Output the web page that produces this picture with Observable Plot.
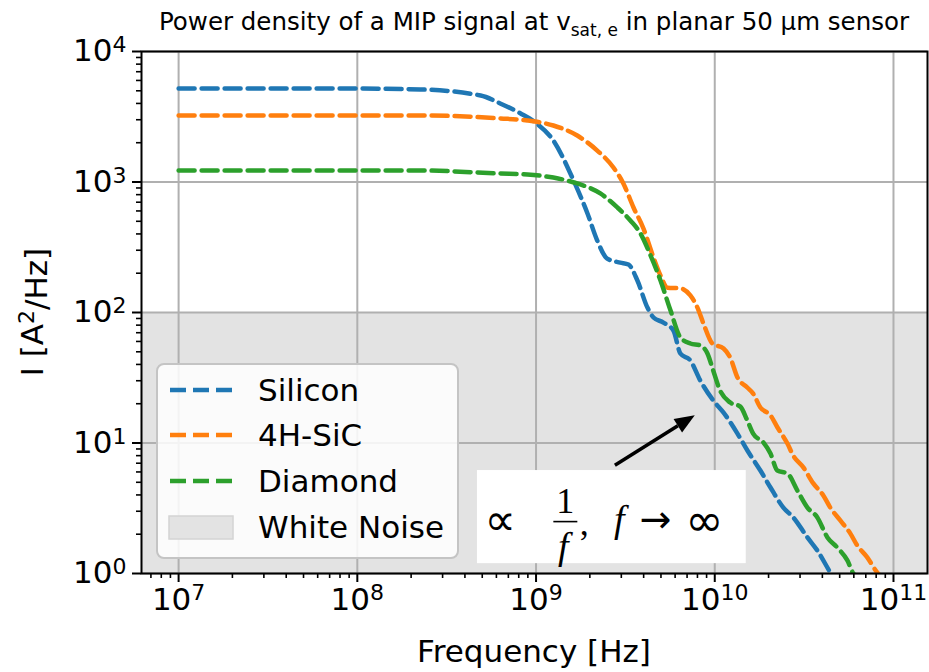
<!DOCTYPE html>
<html><head><meta charset="utf-8">
<script src="https://cdn.jsdelivr.net/npm/d3@7"></script>
<script src="https://cdn.jsdelivr.net/npm/@observablehq/plot@0.6"></script>
<style>
body{margin:0;background:#fff;}
#chart{width:929px;height:672px;}
</style>
</head><body><div id="chart"></div>
<script>
// ---------- data ----------
const series = ["Silicon", "4H-SiC", "Diamond"];
const colors = ["#1f77b4", "#ff7f0e", "#2ca02c"];

const siliconF = [1e7, 1e8, 2.25e8, 4.9e8, 6.3e8, 8.2e8, 9.9e8, 1.25e9, 1.62e9, 1.94e9, 2.2e9, 2.5e9, 2.96e9, 3.29e9, 3.69e9, 4.2e9, 4.54e9, 5.16e9, 5.87e9, 6.42e9, 7.3e9, 8.3e9, 9.8e9, 1.12e10, 1.34e10, 1.52e10, 1.8e10, 2.05e10, 2.42e10, 2.75e10, 3.3e10, 3.75e10, 4.43e10, 4.7e10];
const siliconI = [5200, 5200, 5120, 4600, 4000, 3350, 2860, 2080, 1030, 574, 356, 259, 241, 233, 176, 109, 91.6, 83.8, 72.8, 48.5, 42.9, 30.1, 21.2, 17.1, 11.8, 8.8, 6.15, 4.56, 3.2, 2.69, 1.89, 1.5, 1.02, 0.9];

const sicF = [1e7, 1e8, 2.25e8, 6.3e8, 8.95e8, 1.25e9, 1.70e9, 2.2e9, 2.71e9, 3.08e9, 3.51e9, 3.99e9, 4.54e9, 4.97e9, 5.44e9, 6.43e9, 7.3e9, 8.0e9, 8.64e9, 9.7e9, 1.12e10, 1.22e10, 1.34e10, 1.52e10, 1.64e10, 1.8e10, 2.05e10, 2.24e10, 2.55e10, 2.75e10, 3.13e10, 3.56e10, 4.05e10, 4.43e10, 5.04e10, 5.73e10, 6.27e10, 7.13e10, 8.1e10, 8.5e10];
const sicI = [3235, 3235, 3235, 3070, 2960, 2710, 2270, 1742, 1291, 975, 638, 440, 264, 192, 155, 153, 135, 109, 82.4, 57.8, 53, 45.2, 31.8, 26.6, 23.9, 18.7, 16.3, 13.2, 9.9, 8.0, 6.5, 4.9, 3.96, 3.2, 2.55, 2.03, 1.64, 1.33, 1.02, 0.95];

const diamondF = [1e7, 1e8, 2.25e8, 6.3e8, 8.95e8, 1.25e9, 1.70e9, 2.29e9, 2.85e9, 3.37e9, 3.84e9, 4.37e9, 4.97e9, 5.65e9, 6.43e9, 7.3e9, 8.3e9, 9.1e9, 9.8e9, 1.07e10, 1.22e10, 1.39e10, 1.52e10, 1.64e10, 1.87e10, 2.05e10, 2.24e10, 2.55e10, 2.9e10, 3.3e10, 3.75e10, 4.27e10, 4.85e10, 5.52e10, 5.96e10, 6.3e10];
const diamondI = [1225, 1225, 1225, 1161, 1141, 1081, 975, 817, 638, 507, 403, 274, 176, 104, 64.3, 57.9, 55.9, 48.5, 36, 25.3, 20.4, 19, 14.9, 11.8, 10.1, 8.3, 6.15, 5.84, 4.32, 3.2, 2.69, 1.89, 1.58, 1.26, 1.0, 0.92];

const xDomain = [6.2e6, 1.55e11];
const yDomain = [1, 1e4];
const whiteNoise = [1, 100];   // band, I range
const xMajor = [1e7, 1e8, 1e9, 1e10, 1e11];
const yMajor = [1, 10, 100, 1000, 10000];

const title = ["Power density of a MIP signal at v", "sat, e", " in planar 50 µm sensor"];
const xLabel = "Frequency [Hz]";
const yLabel = ["I [A", "2", "/Hz]"];
const legendLabels = ["Silicon", "4H-SiC", "Diamond", "White Noise"];

// annotation (data coordinates)
const annoBox = {x1: 4.7e8, x2: 1.5e10, y1: 1.19, y2: 6.15};
const annoArrow = {x1: 2.78e9, y1: 6.7, x2: 7.78e9, y2: 16.2};

// ---------- build ----------
function minors(lo, hi) {
  const out = [];
  for (let e = Math.floor(Math.log10(lo)); e <= Math.ceil(Math.log10(hi)); e++)
    for (let k = 2; k <= 9; k++) { const v = k * 10 ** e; if (v >= lo && v <= hi) out.push(v); }
  return out;
}
const xMinor = minors(xDomain[0], xDomain[1]);
const yMinor = minors(yDomain[0], yDomain[1]);

const lines = [];
[[siliconF, siliconI], [sicF, sicI], [diamondF, diamondI]].forEach(([F, I], s) =>
  F.forEach((f, i) => lines.push({series: series[s], f, I: I[i]})));

const expFmt = d => "10^" + Math.round(Math.log10(d));
const dash = "16,7";
const FS = 31;

const chart = Plot.plot({
  width: 929, height: 672,
  marginLeft: 141, marginRight: 2, marginTop: 51, marginBottom: 99,
  style: {fontFamily: "DejaVu Sans", fontSize: FS + "px", background: "#fff", color: "#000"},
  x: {type: "log", domain: xDomain},
  y: {type: "log", domain: yDomain},
  color: {domain: series, range: colors},
  marks: [
    Plot.rect([{x1: xDomain[0], x2: xDomain[1], y1: whiteNoise[0], y2: whiteNoise[1]}],
      {x1: "x1", x2: "x2", y1: "y1", y2: "y2", fill: "#e3e3e3"}),
    Plot.gridX(xMajor, {stroke: "#b0b0b0", strokeOpacity: 1, strokeWidth: 2}),
    Plot.gridY(yMajor, {stroke: "#b0b0b0", strokeOpacity: 1, strokeWidth: 2}),
    Plot.line(lines, {x: "f", y: "I", z: "series", stroke: "series", strokeWidth: 4.5,
      strokeDasharray: dash, curve: "monotone-x", clip: true}),
    Plot.axisX({ticks: xMinor, tickSize: 5, strokeWidth: 1.6, tickFormat: () => "", label: null}),
    Plot.axisY({ticks: yMinor, tickSize: 5, strokeWidth: 1.6, tickFormat: () => "", label: null}),
    Plot.axisX({ticks: xMajor, tickSize: 9, strokeWidth: 2, tickPadding: 5, tickFormat: expFmt, label: null, fontSize: FS}),
    Plot.axisY({ticks: yMajor, tickSize: 9, strokeWidth: 2, tickPadding: 6, tickFormat: expFmt, label: null, fontSize: FS}),
    Plot.frame({stroke: "#000", strokeWidth: 2})
  ]
});
document.getElementById("chart").appendChild(chart);

const svg = d3.select(chart);
const sx = chart.scale("x"), sy = chart.scale("y");
const X = v => sx.apply(v), Y = v => sy.apply(v);

// superscript tick labels
svg.selectAll("text").each(function() {
  const t = this.textContent;
  if (/^10\^\d+$/.test(t)) {
    const e = t.split("^")[1];
    const el = d3.select(this);
    el.text("").attr("font-size", FS + "px");
    el.append("tspan").text("10");
    el.append("tspan").attr("dy", "-0.42em").attr("font-size", "22px").text(e);
  }
});

const plotL = 141, plotR = 927, plotT = 51, plotB = 573;
const midX = (plotL + plotR) / 2;

// title
const tt = svg.append("text").attr("x", midX).attr("y", 30).attr("text-anchor", "middle")
  .attr("font-family", "DejaVu Sans").attr("font-size", "24.5px").attr("fill", "#000");
tt.append("tspan").text(title[0]);
tt.append("tspan").attr("dy", "6").attr("font-size", "17px").text(title[1]);
tt.append("tspan").attr("dy", "-6").text(title[2]);

// axis labels
svg.append("text").attr("x", midX).attr("y", 662).attr("text-anchor", "middle")
  .attr("font-family", "DejaVu Sans").attr("font-size", FS + "px").attr("fill", "#000").text(xLabel);
const yl = svg.append("text").attr("transform", `translate(43,${(plotT + plotB) / 2}) rotate(-90)`)
  .attr("text-anchor", "middle").attr("font-family", "DejaVu Sans").attr("font-size", FS + "px").attr("fill", "#000");
yl.append("tspan").text(yLabel[0]);
yl.append("tspan").attr("dy", "-0.42em").attr("font-size", "22px").text(yLabel[1]);
yl.append("tspan").attr("dy", "0.42em").text(yLabel[2]);

// annotation box + math text
const g = svg.append("g");
g.append("rect").attr("x", X(annoBox.x1)).attr("y", Y(annoBox.y2))
  .attr("width", X(annoBox.x2) - X(annoBox.x1)).attr("height", Y(annoBox.y1) - Y(annoBox.y2))
  .attr("fill", "#fff");
const cx = (X(annoBox.x1) + X(annoBox.x2)) / 2, cy = (Y(annoBox.y1) + Y(annoBox.y2)) / 2;
const serif = "Liberation Serif, DejaVu Serif, serif";
function mt(txt, dx, dy, opts = {}) {
  g.append("text").attr("x", cx + dx).attr("y", cy + dy).attr("text-anchor", "middle")
    .attr("dominant-baseline", "central").attr("font-family", opts.family || serif)
    .attr("font-style", opts.italic ? "italic" : "normal")
    .attr("font-size", (opts.size || 32) + "px").attr("fill", "#000").text(txt);
}
mt("∝", -111, 3, {family: "DejaVu Sans", size: 44});
mt("1", -46, -16, {size: 36});
g.append("line").attr("x1", cx - 58).attr("x2", cx - 34).attr("y1", cy + 5).attr("y2", cy + 5)
  .attr("stroke", "#000").attr("stroke-width", 1.6);
mt("f", -48, 29, {italic: true, size: 38});
mt(",", -27, 6, {size: 36});
mt("f", 8, 2, {italic: true, size: 38});
mt("→", 44, 2, {family: "DejaVu Sans", size: 38});
mt("∞", 93, 3, {family: "DejaVu Sans", size: 46});

// arrow
const ax1 = X(annoArrow.x1), ay1 = Y(annoArrow.y1), ax2 = X(annoArrow.x2), ay2 = Y(annoArrow.y2);
const ang = Math.atan2(ay2 - ay1, ax2 - ax1);
const hl = 20, hw = 8;
const bx = ax2 - hl * Math.cos(ang), by = ay2 - hl * Math.sin(ang);
g.append("line").attr("x1", ax1).attr("y1", ay1).attr("x2", bx).attr("y2", by)
  .attr("stroke", "#000").attr("stroke-width", 3.5);
g.append("path").attr("d", `M${ax2},${ay2} L${bx - hw * Math.sin(ang)},${by + hw * Math.cos(ang)} L${bx + hw * Math.sin(ang)},${by - hw * Math.cos(ang)} Z`)
  .attr("fill", "#000");

// legend
const lg = svg.append("g");
lg.append("rect").attr("x", 157).attr("y", 364).attr("width", 301).attr("height", 194)
  .attr("rx", 7).attr("fill", "#fff").attr("fill-opacity", 0.85).attr("stroke", "#c4c4c4").attr("stroke-width", 2);
const rowsY = [390, 435, 481, 527];
series.forEach((s, i) => {
  lg.append("line").attr("x1", 170).attr("x2", 234).attr("y1", rowsY[i]).attr("y2", rowsY[i])
    .attr("stroke", colors[i]).attr("stroke-width", 4.5).attr("stroke-dasharray", dash);
});
lg.append("rect").attr("x", 169).attr("y", 516).attr("width", 64).attr("height", 23)
  .attr("fill", "#e3e3e3").attr("stroke", "#d4d4d4").attr("stroke-width", 1.5);
legendLabels.forEach((t, i) => {
  lg.append("text").attr("x", 258).attr("y", rowsY[i]).attr("dominant-baseline", "central")
    .attr("text-anchor", "start")
    .attr("font-family", "DejaVu Sans").attr("font-size", FS + "px").attr("fill", "#000").text(t);
});
</script>
</body></html>
